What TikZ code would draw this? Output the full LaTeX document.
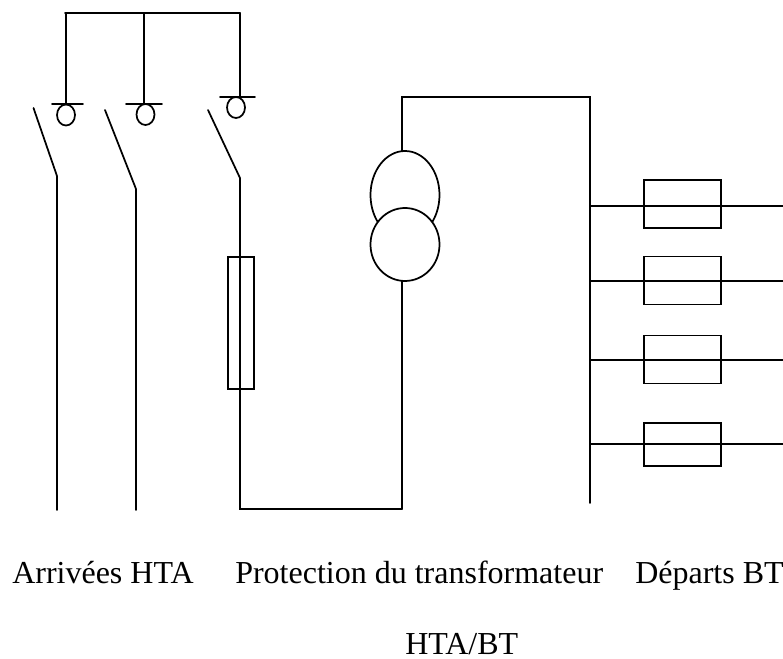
\documentclass[tikz,border=0pt]{standalone}
\usepackage{fontspec}
\setmainfont{Liberation Serif}
\usetikzlibrary{shapes.geometric}
\tikzset{
wire/.style = {line width=1.3pt, line cap=round},
contact/.style = {ellipse, draw=black, line width=1.3pt, fill=white, inner sep=0pt, outer sep=0pt, minimum width=13.5pt, minimum height=15.75pt},
coil/.style = {ellipse, draw=black, line width=1.3pt, fill=white, inner sep=0pt, outer sep=0pt, minimum width=51.75pt, minimum height=#1},
coil/.default = 66pt,
fuse/.style = {rectangle, draw=black, line width=1.3pt, inner sep=0pt, outer sep=0pt, minimum width=57.75pt, minimum height=#1},
fuse/.default = 36pt,
label/.style = {inner sep=0pt, anchor=base west, font=\fontsize{24}{26}\selectfont}
}
\begin{document}
\begin{tikzpicture}[x=0.75pt, y=-0.75pt]
\useasboundingbox (0,0) rectangle (783,659);

% commande
\coordinate (busLeft) at (65,13);
\coordinate (busMid) at (144,13);
\coordinate (busRight) at (240,13);
\coordinate (rodA) at (66,104);
\coordinate (rodB) at (144,104);
\coordinate (rodC) at (240,97);
\coordinate (barAl) at (52,104);
\coordinate (barAr) at (83,104);
\coordinate (barBl) at (126,104);
\coordinate (barBr) at (162,104);
\coordinate (barCl) at (220,97);
\coordinate (barCr) at (255,97);
\node[contact] (contactA) at (66,115) {};
\node[contact] (contactB) at (145.5,114.5) {};
\node[contact] (contactC) at (236,107.5) {};
\draw[wire] (busLeft) -- (busRight);
\draw[wire] (busLeft -| rodA) -- (rodA);
\draw[wire] (busMid) -- (rodB);
\draw[wire] (busRight) -- (rodC);
\draw[wire] (barAl) -- (barAr);
\draw[wire] (barBl) -- (barBr);
\draw[wire] (barCl) -- (barCr);

% arrivees
\coordinate (bladeA) at (33.5,108);
\coordinate (bladeB) at (105,110);
\coordinate (bladeC) at (208,110);
\coordinate (pivotA) at (57,176);
\coordinate (pivotB) at (136,189);
\coordinate (pivotC) at (240,178);
\coordinate (endA) at (57,510);
\coordinate (endB) at (136,510);
\coordinate (cornerC) at (240,509);
\coordinate (cornerT) at (402,509);
\draw[wire] (bladeA) -- (pivotA) -- (endA);
\draw[wire] (bladeB) -- (pivotB) -- (endB);
\draw[wire] (bladeC) -- (pivotC) -- (cornerC) -- (cornerT);
\node[fuse=99pt, minimum width=19.5pt] (fuseProt) at (241,323) {};

% transformateur
\node[coil] (coilTop) at (405,195) {};
\node[coil=54.75pt] (coilBottom) at (405,244.5) {};
\coordinate (coilIn) at (402,151);
\coordinate (coilOut) at (402,281);
\coordinate (lineTop) at (402,97);
\coordinate (busTop) at (590,97);
\coordinate (busEnd) at (590,503);
\draw[wire] (cornerT) -- (coilOut);
\draw[wire] (coilIn) -- (lineTop) -- (busTop) -- (busEnd);

% departs
\node[fuse] (fuseA) at (682.5,204) {};
\node[fuse] (fuseB) at (682.5,280.5) {};
\node[fuse] (fuseC) at (682.5,359.5) {};
\node[fuse=32.25pt] (fuseD) at (682.5,444.5) {};
\coordinate (tapA) at (590,206);
\coordinate (outA) at (783,206);
\coordinate (tapB) at (590,281);
\coordinate (outB) at (783,281);
\coordinate (tapC) at (590,360);
\coordinate (outC) at (783,360);
\coordinate (tapD) at (590,444);
\coordinate (outD) at (783,444);
\draw[wire] (tapA) -- (outA);
\draw[wire] (tapB) -- (outB);
\draw[wire] (tapC) -- (outC);
\draw[wire] (tapD) -- (outD);

\node[label] (arrivees) at (12,584) {Arrivées HTA};
\node[label] (protection) at (235,584) {Protection du transformateur};
\node[label] (departs) at (635,584) {Départs BT};
\node[label] (htabt) at (405,654) {HTA/BT};
\end{tikzpicture}
\end{document}
